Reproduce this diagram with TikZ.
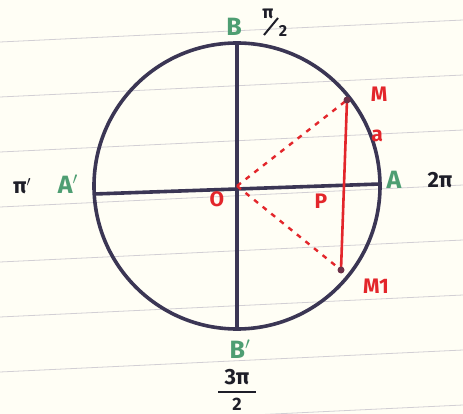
\documentclass[tikz,border=0pt]{standalone}
\usepackage{fontspec}
\setmainfont{Fira Sans}
\begin{document}
\begin{tikzpicture}[x=1pt,y=-1pt,
  ink/.style={draw=inkc,line width=3.6pt},
  redline/.style={draw=redc,line width=2.6pt},
  reddash/.style={draw=redc,line width=2.4pt,dash pattern=on 5pt off 6pt},
  glab/.style={text=greenc,font=\bfseries\fontsize{25}{25}\selectfont,inner sep=0pt},
  rlab/.style={text=redc,font=\bfseries\fontsize{21}{21}\selectfont,inner sep=0pt},
  klab/.style={text=inkk,font=\bfseries\fontsize{22}{22}\selectfont,inner sep=0pt},
  rule/.style={draw=ruled,line width=0.8pt}]
\definecolor{inkc}{HTML}{3B3654}
\definecolor{inkk}{HTML}{1E1E28}
\definecolor{redc}{HTML}{E3262B}
\definecolor{greenc}{HTML}{4E9E72}
\definecolor{ruled}{HTML}{D2CFD4}
\useasboundingbox (0,0) rectangle (463,414);
\clip (0,0) rectangle (463,414);
\fill[white!96!yellow] (0,0) rectangle (463,414);
% ruled notebook lines
\foreach \k in {0,...,7}{
  \draw[rule] (0,{42+55*\k}) -- (463,{20+55*\k});
}
% circle and axes
\coordinate (O) at (237,186);
\draw[ink] (O) circle (143);
\coordinate (Ap) at (94,194);
\coordinate (Ar) at (380,184);
\coordinate (Bt) at (237,43);
\coordinate (Bb) at (237,328);
\draw[ink] (Ap) -- (Ar);
\draw[ink] (Bt) -- (Bb);
% M, M1
\coordinate (M) at (347,100);
\coordinate (M1) at (341,270);
\draw[reddash] (O) -- (M);
\draw[reddash] (O) -- (M1);
\draw[redline] (M) -- (M1);
\fill[inkc!70!redc] (M) circle (3.5);
\fill[inkc!70!redc] (M1) circle (3.5);
% labels
\node[glab] (lB) at (234,27) {B};
\node[klab,font=\bfseries\fontsize{18}{18}\selectfont] (lpiT) at (268,14) {π};
\coordinate (sl1) at (264,35);
\coordinate (sl2) at (278,18);
\draw[inkk,line width=2pt] (sl1) -- (sl2);
\node[klab,font=\bfseries\fontsize{16}{16}\selectfont] (lpiB) at (283,31) {2};
\node[glab] (lA) at (394,180) {A};
\node[klab] (l2pi) at (440,180) {2π};
\node[glab] (lAp) at (68,184) {A$'$};
\node[klab] (lpi) at (22,186) {π$'$};
\node[glab] (lBp) at (240,349) {B$'$};
\node[klab] (l3pi) at (237,377) {3π};
\coordinate (fb1) at (218,392);
\coordinate (fb2) at (256,392);
\draw[inkk,line width=2.2pt] (fb1) -- (fb2);
\node[klab,font=\bfseries\fontsize{18}{18}\selectfont] (l2) at (237,404) {2};
\node[rlab] (lM) at (379,94) {M};
\node[rlab] (la) at (377,136) {a};
\node[rlab] (lM1) at (376,286) {M1};
\node[rlab] (lO) at (217,199) {O};
\node[rlab] (lP) at (321,201) {P};
\end{tikzpicture}
\end{document}
